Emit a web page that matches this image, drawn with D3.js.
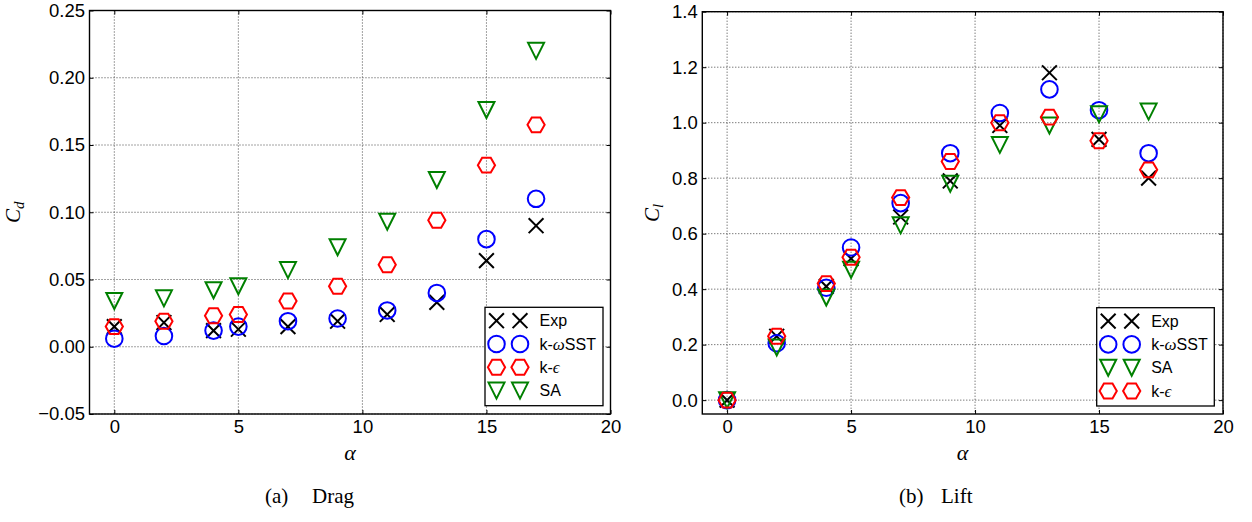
<!DOCTYPE html>
<html>
<head>
<meta charset="utf-8">
<script src="https://cdn.jsdelivr.net/npm/d3@7/dist/d3.min.js"></script>
<style>
  html, body { margin: 0; padding: 0; background: #fff; }
  svg { display: block; }
  .tick text { font-family: "Liberation Sans", Arial, sans-serif; font-size: 18.5px; fill: #000; }
  .leg text { font-family: "Liberation Sans", Arial, sans-serif; font-size: 16px; fill: #000; }
  .math { font-family: "Liberation Serif", "DejaVu Serif", serif; font-style: italic; }
  .cap { font-family: "Liberation Serif", "DejaVu Serif", serif; font-size: 21px; fill: #000; }
</style>
</head>
<body>
<svg id="chart" width="1252" height="522"></svg>
<script>
// Angle of attack (degrees)
const alpha = [0, 2, 4, 5, 7, 9, 11, 13, 15, 17];

// Drag coefficient
const dragExp = [0.015, 0.018, 0.012, 0.013, 0.015, 0.019, 0.024, 0.033, 0.064, 0.090];
const dragSST = [0.006, 0.008, 0.012, 0.015, 0.019, 0.021, 0.027, 0.040, 0.080, 0.110];
const dragKe  = [0.015, 0.019, 0.023, 0.024, 0.034, 0.045, 0.061, 0.094, 0.135, 0.165];
const dragSA  = [0.034, 0.036, 0.042, 0.045, 0.057, 0.074, 0.093, 0.124, 0.176, 0.220];

// Lift coefficient
const liftExp = [0.00, 0.23, 0.41, 0.51, 0.66, 0.79, 0.99, 1.18, 0.94, 0.80];
const liftSST = [0.00, 0.205, 0.405, 0.55, 0.71, 0.89, 1.035, 1.12, 1.045, 0.89];
const liftSA  = [0.00, 0.19, 0.37, 0.47, 0.63, 0.78, 0.92, 0.99, 1.03, 1.04];
const liftKe  = [0.00, 0.23, 0.42, 0.515, 0.73, 0.86, 1.00, 1.02, 0.935, 0.83];

// Axis ticks
const xTicks = [0, 5, 10, 15, 20];
const dragTicks = [-0.05, 0.00, 0.05, 0.10, 0.15, 0.20, 0.25];
const liftTicks = [0.0, 0.2, 0.4, 0.6, 0.8, 1.0, 1.2, 1.4];

const svg = d3.select("#chart");

// Marker shapes (centered at origin)
const S = 8.3;
const markers = {
  x: () => { const s = 7.4; return `M${-s},${-s}L${s},${s}M${-s},${s}L${s},${-s}`; },
  hex: () => {
    const R = 8.6;
    const pts = d3.range(6).map(i => [R * Math.cos(i * Math.PI / 3), R * Math.sin(i * Math.PI / 3)]);
    return "M" + pts.map(p => p.join(",")).join("L") + "Z";
  },
  v: () => { const s = 8; return `M0,${s}L${-s},${-s}L${s},${-s}Z`; }
};

function drawMarker(g, type, color, x, y) {
  if (type === "o") {
    g.append("circle").attr("cx", x).attr("cy", y).attr("r", S)
      .attr("fill", "none").attr("stroke", color).attr("stroke-width", 2);
  } else {
    g.append("path").attr("d", markers[type]())
      .attr("transform", `translate(${x},${y})`)
      .attr("fill", "none").attr("stroke", color).attr("stroke-width", 2)
      .attr("stroke-linejoin", "miter");
  }
}

function panel(opt) {
  const { x0, x1, y0, y1, yDomain, yTicks, yFmt, series, legendBox, ylab, ysub, ylabX, caption } = opt;
  const x = d3.scaleLinear().domain([-1, 20]).range([x0, x1]);
  const y = d3.scaleLinear().domain(yDomain).range([y1, y0]);
  const g = svg.append("g");

  // dotted grid
  const grid = g.append("g").attr("stroke", "#444").attr("stroke-width", 1)
    .attr("stroke-dasharray", "1,2");
  xTicks.forEach(t => grid.append("line").attr("x1", x(t)).attr("x2", x(t)).attr("y1", y0).attr("y2", y1));
  yTicks.forEach(t => grid.append("line").attr("x1", x0).attr("x2", x1).attr("y1", y(t)).attr("y2", y(t)));

  // axes with inward ticks on all four sides
  const tl = 4;
  g.append("g").attr("transform", `translate(0,${y1})`)
    .call(d3.axisBottom(x).tickValues(xTicks).tickSizeInner(-tl).tickSizeOuter(0).tickPadding(6).tickFormat(d3.format("d")))
    .call(a => a.select(".domain").remove());
  g.append("g").attr("transform", `translate(0,${y0})`)
    .call(d3.axisTop(x).tickValues(xTicks).tickSizeInner(-tl).tickSizeOuter(0).tickFormat(""))
    .call(a => a.select(".domain").remove());
  g.append("g").attr("transform", `translate(${x0},0)`)
    .call(d3.axisLeft(y).tickValues(yTicks).tickSizeInner(-tl).tickSizeOuter(0).tickPadding(4.5).tickFormat(d3.format(yFmt)))
    .call(a => a.select(".domain").remove());
  g.append("g").attr("transform", `translate(${x1},0)`)
    .call(d3.axisRight(y).tickValues(yTicks).tickSizeInner(-tl).tickSizeOuter(0).tickFormat(""))
    .call(a => a.select(".domain").remove());
  g.selectAll(".tick line").attr("stroke", "#000").attr("stroke-width", 1);

  // frame
  g.append("rect").attr("x", x0).attr("y", y0).attr("width", x1 - x0).attr("height", y1 - y0)
    .attr("fill", "none").attr("stroke", "#000").attr("stroke-width", 1.4);

  // data markers
  const dots = g.append("g");
  series.forEach(s => {
    s.values.forEach((v, i) => drawMarker(dots, s.type, s.color, x(alpha[i]), y(v)));
  });

  // legend
  const [lx0, ly0, lx1, ly1] = legendBox;
  const leg = g.append("g").attr("class", "leg");
  leg.append("rect").attr("x", lx0).attr("y", ly0).attr("width", lx1 - lx0).attr("height", ly1 - ly0)
    .attr("fill", "#fff").attr("stroke", "#000").attr("stroke-width", 1.3);
  series.forEach((s, i) => {
    const cy = ly0 + 13.4 + i * 23.3;
    drawMarker(leg, s.type, s.color, lx0 + 11.5, cy);
    drawMarker(leg, s.type, s.color, lx0 + 35, cy);
    const t = leg.append("text").attr("x", lx0 + 54.5).attr("y", cy).attr("dy", "0.36em");
    s.label.forEach(part => {
      const ts = t.append("tspan").text(part.t);
      if (part.math) ts.attr("class", "math").attr("font-size", "17px");
    });
  });

  // axis titles
  const ym = (y0 + y1) / 2;
  const yl = svg.append("text").attr("class", "math")
    .attr("transform", `translate(${ylabX},${ym}) rotate(-90)`)
    .attr("text-anchor", "middle").attr("font-size", "21px");
  yl.append("tspan").text(ylab);
  yl.append("tspan").text(ysub).attr("font-size", "15px").attr("dy", "4");
  svg.append("text").attr("class", "math").attr("x", (x0 + x1) / 2).attr("y", 460)
    .attr("text-anchor", "middle").attr("font-size", "22px").text("α");

  // caption
  svg.append("text").attr("class", "cap").attr("x", caption.x1).attr("y", 503).text(caption.a);
  svg.append("text").attr("class", "cap").attr("x", caption.x2).attr("y", 503).text(caption.b);
}

const lbl = {
  exp: [{ t: "Exp" }],
  sst: [{ t: "k-" }, { t: "ω", math: true }, { t: "SST" }],
  ke: [{ t: "k-" }, { t: "ϵ", math: true }],
  sa: [{ t: "SA" }]
};

panel({
  x0: 89.5, x1: 610.5, y0: 10.5, y1: 414,
  yDomain: [-0.05, 0.25], yTicks: dragTicks, yFmt: ".2f",
  series: [
    { type: "x", color: "#000", values: dragExp, label: lbl.exp },
    { type: "o", color: "#0000ff", values: dragSST, label: lbl.sst },
    { type: "hex", color: "#ff0000", values: dragKe, label: lbl.ke },
    { type: "v", color: "#008000", values: dragSA, label: lbl.sa }
  ],
  legendBox: [485, 307.3, 603, 405.7],
  ylab: "C", ysub: "d", ylabX: 20,
  caption: { a: "(a)", b: "Drag", x1: 265, x2: 312 }
});

panel({
  x0: 702.3, x1: 1223, y0: 11.7, y1: 414,
  yDomain: [-0.05, 1.4], yTicks: liftTicks, yFmt: ".1f",
  series: [
    { type: "x", color: "#000", values: liftExp, label: lbl.exp },
    { type: "o", color: "#0000ff", values: liftSST, label: lbl.sst },
    { type: "v", color: "#008000", values: liftSA, label: lbl.sa },
    { type: "hex", color: "#ff0000", values: liftKe, label: lbl.ke }
  ],
  legendBox: [1096.7, 307.7, 1214.3, 406],
  ylab: "C", ysub: "l", ylabX: 659,
  caption: { a: "(b)", b: "Lift", x1: 899, x2: 941 }
});
</script>
</body>
</html>
